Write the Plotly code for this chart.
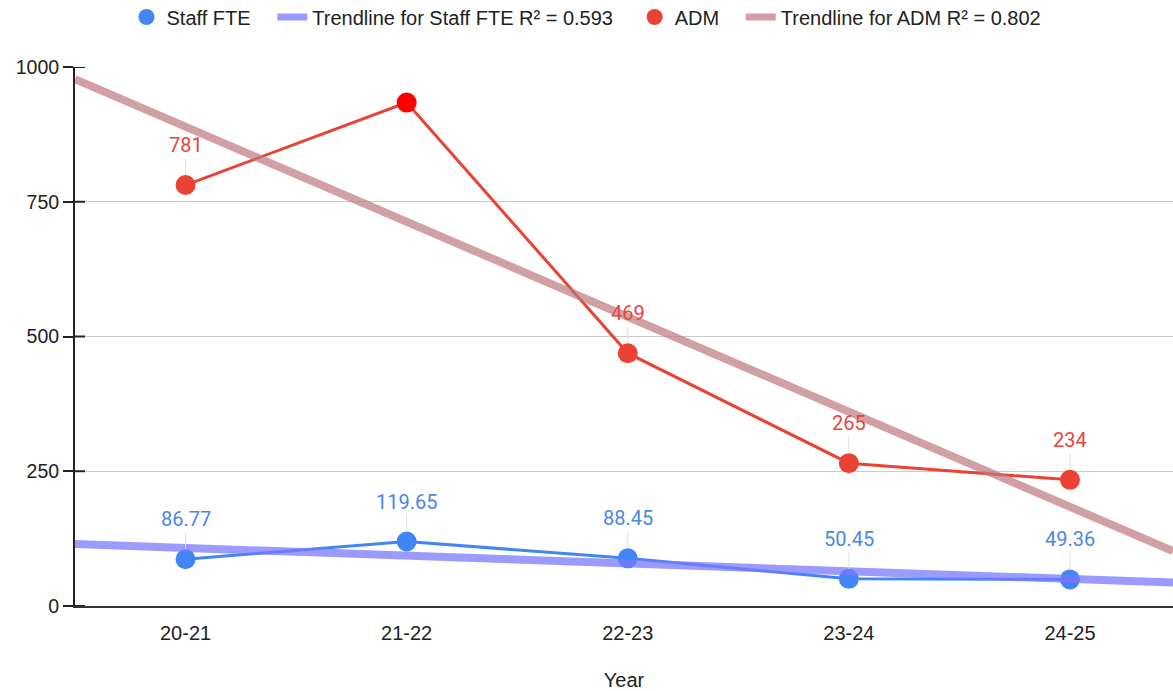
import numpy as np
import plotly.graph_objects as go

years = ["20-21", "21-22", "22-23", "23-24", "24-25"]
staff_fte = [86.77, 119.65, 88.45, 50.45, 49.36]
adm = [781, 934, 469, 265, 234]
staff_labels = ["86.77", "119.65", "88.45", "50.45", "49.36"]
adm_labels = ["781", "", "469", "265", "234"]
y_ticks = [0, 250, 500, 750, 1000]

BLUE = "#4285F4"
RED = "#EA4335"
BLUE_TREND = "rgba(120,120,255,0.75)"
RED_TREND = "rgba(190,120,125,0.7)"
FONT = "Arial, 'Liberation Sans', sans-serif"
LABEL_FONT = "Roboto, Arial, sans-serif"
PAD = "\u00a0\u00a0\u00a0"

xi = np.arange(len(years))
x_lo, x_hi = -0.5, 4.466

W, H = 1173, 691
ML, MR, MT, MB = 75, 0, 67, 85


def trend(vals):
    k, b = np.polyfit(xi, vals, 1)
    pred = k * xi + b
    arr = np.array(vals)
    r2 = 1 - np.sum((arr - pred) ** 2) / np.sum((arr - arr.mean()) ** 2)
    xs = [x_lo, x_hi]
    return xs, [k * x + b for x in xs], r2


fig = go.Figure()

sx, sy, sr2 = trend(staff_fte)
ax_, ay_, ar2 = trend(adm)

fig.add_trace(go.Scatter(x=sx, y=sy, mode="lines", line=dict(color=BLUE_TREND, width=8),
                         xaxis="x2", showlegend=False, hoverinfo="skip"))
fig.add_trace(go.Scatter(x=ax_, y=ay_, mode="lines", line=dict(color=RED_TREND, width=8),
                         xaxis="x2", showlegend=False, hoverinfo="skip"))

fig.add_trace(go.Scatter(x=years, y=staff_fte, mode="lines+markers", name="Staff FTE",
                         line=dict(color=BLUE, width=3), marker=dict(color=BLUE, size=20),
                         showlegend=False))
fig.add_trace(go.Scatter(x=years, y=adm, mode="lines+markers", name="ADM",
                         line=dict(color=RED, width=3),
                         marker=dict(color=[RED, "#FF0000", RED, RED, RED], size=20),
                         showlegend=False))

# legend entries
fig.add_trace(go.Scatter(x=[None], y=[None], mode="markers", name="Staff FTE" + PAD,
                         marker=dict(color=BLUE, size=20)))
fig.add_trace(go.Scatter(x=[None], y=[None], mode="lines",
                         name=f"Trendline for Staff FTE R² = {sr2:.3f}" + PAD,
                         line=dict(color=BLUE_TREND, width=7)))
fig.add_trace(go.Scatter(x=[None], y=[None], mode="markers", name="ADM" + PAD,
                         marker=dict(color=RED, size=20)))
fig.add_trace(go.Scatter(x=[None], y=[None], mode="lines",
                         name=f"Trendline for ADM R² = {ar2:.3f}",
                         line=dict(color=RED_TREND, width=7)))

annotations = []
for yr, v, t in zip(years, staff_fte, staff_labels):
    if t:
        annotations.append(dict(x=yr, y=v, text=t, showarrow=True, arrowhead=0, arrowwidth=1,
                                arrowcolor="#dddddd", ax=0, ay=-40, standoff=10,
                                font=dict(color="#4a86e8", size=20, family=LABEL_FONT)))
for yr, v, t in zip(years, adm, adm_labels):
    if t:
        annotations.append(dict(x=yr, y=v, text=t, showarrow=True, arrowhead=0, arrowwidth=1,
                                arrowcolor="#dddddd", ax=0, ay=-40, standoff=10,
                                font=dict(color="#e8453c", size=20, family=LABEL_FONT)))

plot_w = W - ML - MR
shapes = [dict(type="line", xref="paper", yref="y", x0=0, x1=10 / plot_w, y0=t, y1=t,
               line=dict(color="#222222", width=2), layer="above") for t in y_ticks]

fig.update_layout(
    width=W, height=H,
    margin=dict(l=ML, r=MR, t=MT, b=MB, autoexpand=False),
    paper_bgcolor="white", plot_bgcolor="white",
    font=dict(family=FONT, size=20, color="#222222"),
    legend=dict(orientation="h", x=0.5, xanchor="center", xref="container",
                y=1 - 17 / H, yanchor="middle", yref="container",
                font=dict(size=20, color="#222222", family=FONT),
                itemwidth=30, tracegroupgap=0),
    xaxis=dict(type="category", range=[x_lo, x_hi], showgrid=False, showline=True,
               linecolor="#333333", linewidth=2, ticks="", tickfont=dict(size=20),
               ticklabelstandoff=8,
               title=dict(text="Year", font=dict(size=20), standoff=38),
               zeroline=False, automargin=False),
    xaxis2=dict(range=[x_lo, x_hi], overlaying="x", visible=False),
    yaxis=dict(range=[0, 1000], tickvals=y_ticks, showgrid=True, gridcolor="#cccccc",
               showline=True, linecolor="#222222", linewidth=2, ticks="outside",
               ticklen=10, tickwidth=2, tickcolor="#222222", tickfont=dict(size=19.5),
               zeroline=False, automargin=False),
    annotations=annotations,
    shapes=shapes,
)

fig.write_html("out.html",
               config={"displayModeBar": False},
               post_script="document.body.style.margin='0';document.body.style.overflow='hidden';")
